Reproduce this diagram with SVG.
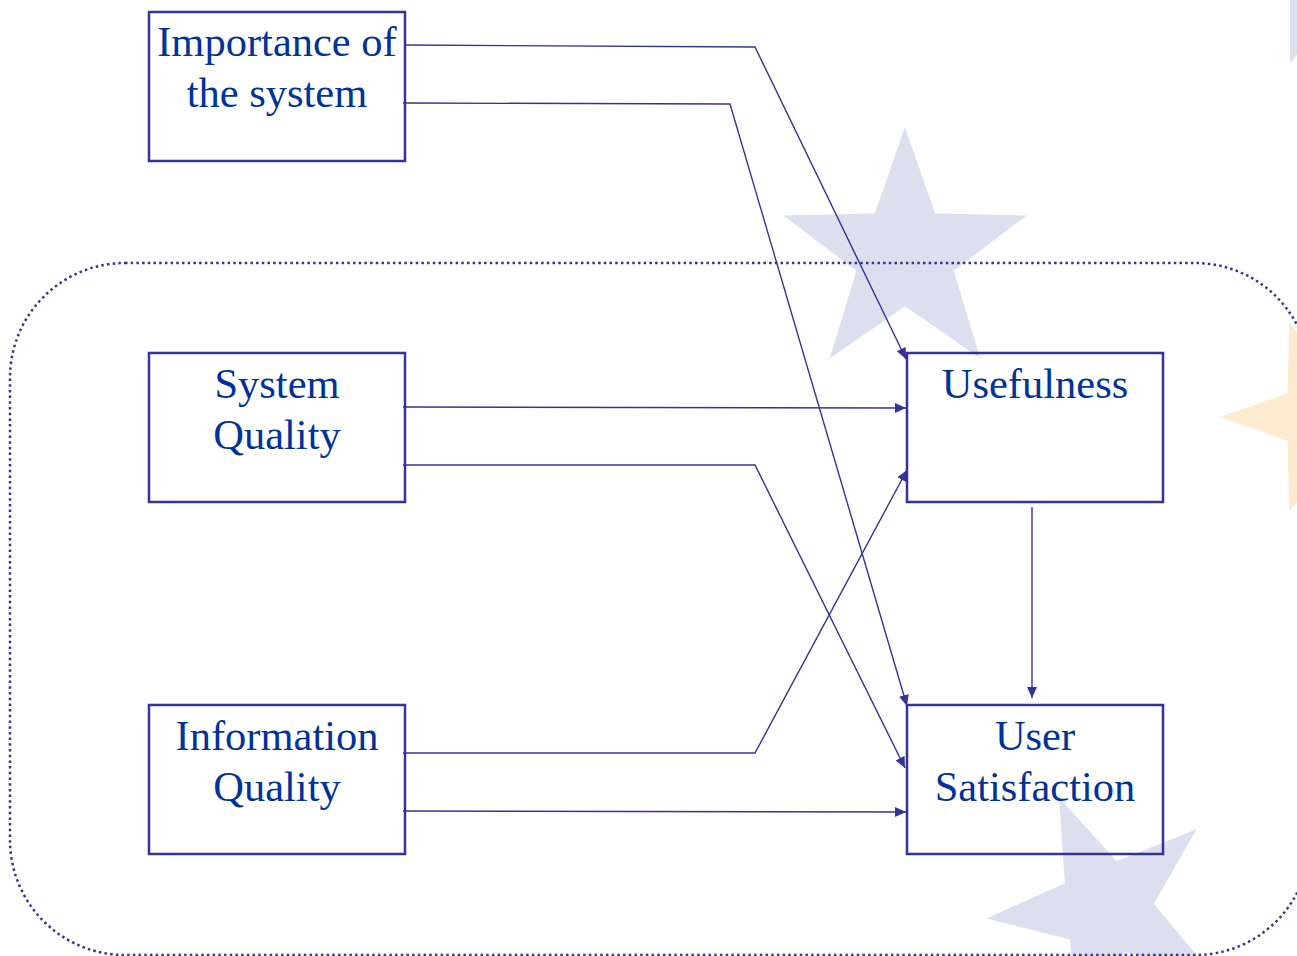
<svg xmlns="http://www.w3.org/2000/svg" width="1297" height="956" viewBox="0 0 1297 956">
  <style>
    .star-blue { fill: #dcdfee; }
    .star-gold { fill: #fdebcf; }
    .frame { fill: none; stroke: #333399; stroke-width: 2.5; stroke-dasharray: 2.5 3.2; }
    .box { fill: none; stroke: #333399; stroke-width: 2.5; }
    .label { font-family: "Liberation Serif", "Times New Roman", serif; font-size: 42.5px; fill: #003399; text-anchor: middle; }
    .link { fill: none; stroke: #333399; stroke-width: 1.4; marker-end: url(#arrow); }
  </style>
  <defs>
    <polygon id="star" points="0,-100 23.5,-32.4 95.1,-30.9 38,12.4 58.8,80.9 0,40 -58.8,80.9 -38,12.4 -95.1,-30.9 -23.5,-32.4"/>
    <marker id="arrow" markerUnits="userSpaceOnUse" markerWidth="12" markerHeight="10" refX="11" refY="5" orient="auto">
      <path d="M0,0 L11,5 L0,10 Z" fill="#333399"/>
    </marker>
  </defs>

  <rect width="1297" height="956" fill="#ffffff"/>

  <!-- background stars -->
  <g id="stars">
    <use href="#star" class="star-blue" transform="translate(905,255) scale(1.28)"/>
    <use href="#star" class="star-blue" transform="translate(1106,908) rotate(-23) scale(1.2)"/>
    <use href="#star" class="star-gold" transform="translate(1320,417) rotate(-90)"/>
    <polygon class="star-blue" points="1290,0 1297,0 1297,55 1291,62 1290,62"/>
  </g>

  <!-- dotted rounded frame -->
  <rect class="frame" x="10" y="263" width="1300" height="692" rx="115" ry="115"/>

  <!-- connectors -->
  <g id="connectors">
    <polyline class="link" points="405,45 755,47 906,359"/>
    <polyline class="link" points="403,103 730,104 907,706"/>
    <polyline class="link" points="403,407 906,408"/>
    <polyline class="link" points="403,465 755,465 905,768"/>
    <polyline class="link" points="403,753 755,753 907,470"/>
    <polyline class="link" points="403,811 906,812"/>
    <line class="link" x1="1032" y1="507" x2="1032" y2="698"/>
  </g>

  <!-- nodes -->
  <g id="importance">
    <rect class="box" x="149" y="12" width="256" height="149"/>
    <text class="label" x="277" y="56">Importance of</text>
    <text class="label" x="277" y="107">the system</text>
  </g>
  <g id="system-quality">
    <rect class="box" x="149" y="353" width="256" height="149"/>
    <text class="label" x="277" y="398">System</text>
    <text class="label" x="277" y="449">Quality</text>
  </g>
  <g id="information-quality">
    <rect class="box" x="149" y="705" width="256" height="149"/>
    <text class="label" x="277" y="750">Information</text>
    <text class="label" x="277" y="801">Quality</text>
  </g>
  <g id="usefulness">
    <rect class="box" x="907" y="353" width="256" height="149"/>
    <text class="label" x="1035" y="398">Usefulness</text>
  </g>
  <g id="user-satisfaction">
    <rect class="box" x="907" y="705" width="256" height="149"/>
    <text class="label" x="1035" y="750">User</text>
    <text class="label" x="1035" y="801">Satisfaction</text>
  </g>
</svg>
